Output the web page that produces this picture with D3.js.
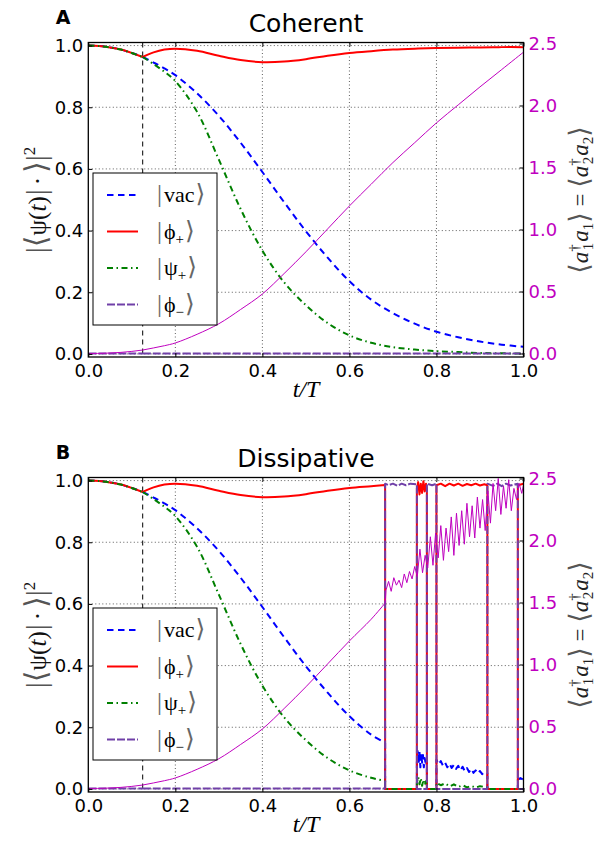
<!DOCTYPE html>
<html><head><meta charset="utf-8">
<script src="https://cdnjs.cloudflare.com/ajax/libs/d3/7.8.5/d3.min.js"></script>
<style>body{margin:0;background:#fff}</style>
</head><body><svg id="c" width="600" height="843"></svg>
<script>
// ---------------- data ----------------
const tPre = [0, 0.025, 0.05, 0.075, 0.1, 0.125];
const sharedPre = [1.0, 0.9985, 0.994, 0.987, 0.976, 0.963];
const phiMinusPre = [0.001, 0.001, 0.001, 0.001, 0.001, 0.001];
const magPre = [0, 0.001, 0.004, 0.009, 0.017, 0.028];

const tPost = [0.125, 0.15, 0.175, 0.2, 0.25, 0.3, 0.35, 0.4, 0.45, 0.5, 0.55, 0.6, 0.65, 0.7, 0.75, 0.8, 0.85, 0.9, 0.95, 1.0];
const phiPlusPost = [0.963, 0.978, 0.987, 0.990, 0.983, 0.967, 0.953, 0.946, 0.948, 0.956, 0.967, 0.976, 0.982, 0.987, 0.990, 0.992, 0.993, 0.994, 0.995, 0.995];
const vacPost = [0.963, 0.945, 0.926, 0.904, 0.845, 0.772, 0.685, 0.590, 0.492, 0.398, 0.312, 0.236, 0.176, 0.132, 0.098, 0.072, 0.054, 0.040, 0.030, 0.023];
const psiPlusPost = [0.963, 0.940, 0.915, 0.885, 0.785, 0.630, 0.470, 0.335, 0.232, 0.158, 0.100, 0.060, 0.036, 0.022, 0.014, 0.009, 0.006, 0.003, 0.002, 0.001];
const phiMinusPost = [0.001, 0.001, 0.001, 0.001, 0.001, 0.001, 0.001, 0.001, 0.001, 0.001, 0.001, 0.001, 0.001, 0.001, 0.001, 0.001, 0.001, 0.001, 0.001, 0.001];
const magPost = [0.028, 0.045, 0.063, 0.085, 0.155, 0.240, 0.355, 0.480, 0.645, 0.820, 1.005, 1.190, 1.365, 1.540, 1.700, 1.860, 2.005, 2.150, 2.290, 2.430];

// dissipative run: quantum-jump section (pairs of [t, value])
const jumpT = 0.682;
const jumpStartT = [0.682];
const phiPlusJumpStart = [0.986];
const vacJumpStart = [0.150];
const psiPlusJumpStart = [0.026];
const phiMinusJumpStart = [0.001];
const magJumpStart = [1.495];

const phiPlusJump = [[0.682,0],[0.755,0],[0.755,0.975],[0.758,0.995],[0.761,0.955],[0.764,0.99],[0.767,0.96],[0.770,0.998],[0.773,0.965],[0.776,0.99],[0.778,0.975],[0.778,0],[0.800,0],[0.800,0.985],[0.81,0.99],[0.82,0.982],[0.83,0.99],[0.84,0.984],[0.85,0.99],[0.86,0.983],[0.87,0.989],[0.88,0.985],[0.89,0.99],[0.90,0.984],[0.91,0.988],[0.917,0.985],[0.917,0],[0.987,0],[0.987,0.985],[1.0,0.99]];
const phiMinusJump = [[0.682,0.99],[0.69,0.985],[0.70,0.99],[0.71,0.983],[0.72,0.99],[0.73,0.985],[0.74,0.99],[0.755,0.988],[0.755,0],[0.778,0],[0.778,0.99],[0.79,0.985],[0.800,0.99],[0.800,0],[0.917,0],[0.917,0.99],[0.93,0.983],[0.94,0.99],[0.95,0.982],[0.96,0.99],[0.97,0.984],[0.987,0.99],[0.987,0],[1.0,0]];
const vacJump = [[0.682,0],[0.755,0],[0.755,0.09],[0.757,0.125],[0.759,0.08],[0.761,0.12],[0.763,0.07],[0.765,0.115],[0.767,0.085],[0.769,0.11],[0.771,0.07],[0.773,0.1],[0.776,0.075],[0.778,0.09],[0.778,0],[0.800,0],[0.800,0.095],[0.805,0.08],[0.81,0.09],[0.815,0.075],[0.82,0.085],[0.825,0.07],[0.83,0.082],[0.835,0.068],[0.84,0.078],[0.845,0.065],[0.85,0.075],[0.855,0.06],[0.86,0.072],[0.865,0.058],[0.87,0.068],[0.875,0.055],[0.88,0.065],[0.885,0.052],[0.89,0.06],[0.895,0.05],[0.90,0.058],[0.905,0.048],[0.91,0.055],[0.917,0.05],[0.917,0],[0.987,0],[0.987,0.03],[0.993,0.035],[1.0,0.03]];
const psiPlusJump = [[0.682,0],[0.755,0],[0.755,0.02],[0.758,0.04],[0.761,0.015],[0.764,0.035],[0.767,0.01],[0.770,0.03],[0.773,0.012],[0.776,0.025],[0.778,0.01],[0.778,0],[0.800,0],[0.800,0.02],[0.81,0.012],[0.82,0.018],[0.83,0.008],[0.84,0.015],[0.85,0.006],[0.86,0.012],[0.87,0.005],[0.88,0.01],[0.89,0.004],[0.90,0.009],[0.917,0.005],[0.917,0],[1.0,0]];
// photon number after the first jump, sampled every 0.006 starting at t = 0.684
const magJumpT0 = 0.684;
const magJumpStep = 0.006;
const magJump = [1.60,1.67,1.59,1.70,1.64,1.68,1.62,1.73,1.66,1.75,
  1.69,1.79,1.71,1.93,1.74,1.88,1.78,2.03,1.80,2.06,
  1.86,2.12,1.84,2.10,1.91,2.19,1.88,2.22,1.96,2.24,
  1.97,2.30,2.03,2.28,2.02,2.35,2.10,2.33,2.08,2.40,
  2.14,2.46,2.24,2.50,2.21,2.44,2.26,2.49,2.24,2.42,
  2.33,2.46,2.38,2.48];

const xTicks = [0, 0.2, 0.4, 0.6, 0.8, 1.0];
const yTicks = [0, 0.2, 0.4, 0.6, 0.8, 1.0];
const y2Ticks = [0, 0.5, 1.0, 1.5, 2.0, 2.5];
const kickT = 0.125;
const titles = ["Coherent", "Dissipative"];
const panelLabels = ["A", "B"];
const seriesNames = ["vac", "phiPlus", "psiPlus", "phiMinus"];

// ---------------- styles ----------------
const styles = {
  vac: {color: "#0000ff", dash: "6.5,4.5", w: 2},
  phiPlus: {color: "#ff0000", dash: null, w: 2},
  psiPlus: {color: "#008000", dash: "6,3.5,1.5,3.5", w: 2},
  phiMinus: {color: "#7040a8", dash: "8,2", w: 2}
};
const MAG = "#bf00bf";
const SERIF = "'Liberation Serif', 'DejaVu Serif', serif";

const svg = d3.select("#c");
const x = d3.scaleLinear().domain([0, 1]).range([88.3, 523.5]);

function zip(ts, vs) { return ts.map((t, i) => [t, vs[i]]); }

function centerRotated(textSel, tx, cy) {
  const bb = textSel.node().getBBox();
  const cx = bb.x + bb.width / 2;
  textSel.attr("transform", `translate(${tx},${cy + cx}) rotate(-90)`);
}

function drawPanel(k) {
  const off = k * 435;
  const top = 42.5 + off, bot = 357 + off;
  const y = d3.scaleLinear().domain([-0.01, 1.01]).range([bot, top]);
  const y2 = d3.scaleLinear().domain([-0.0282, 2.508]).range([bot, top]);
  const g = svg.append("g");
  const line = d3.line().x(d => x(d[0])).y(d => y(d[1]));
  const smooth = d3.line().x(d => x(d[0])).y(d => y(d[1])).curve(d3.curveCatmullRom.alpha(0.5));
  const smooth2 = d3.line().x(d => x(d[0])).y(d => y2(d[1])).curve(d3.curveCatmullRom.alpha(0.5));
  const line2 = d3.line().x(d => x(d[0])).y(d => y2(d[1]));

  const clipId = "clip" + k;
  svg.append("clipPath").attr("id", clipId).append("rect")
    .attr("x", x(0)).attr("y", top).attr("width", x(1) - x(0)).attr("height", bot - top);

  // grid
  const grid = g.append("g").attr("stroke", "#333").attr("stroke-width", 0.8).attr("stroke-dasharray", "1,2.5");
  xTicks.slice(1, -1).forEach(t => grid.append("line").attr("x1", x(t)).attr("x2", x(t)).attr("y1", top).attr("y2", bot));
  yTicks.forEach(v => grid.append("line").attr("x1", x(0)).attr("x2", x(1)).attr("y1", y(v)).attr("y2", y(v)));

  // vertical marker
  g.append("line").attr("x1", x(kickT)).attr("x2", x(kickT)).attr("y1", top).attr("y2", bot)
    .attr("stroke", "#000").attr("stroke-width", 1).attr("stroke-dasharray", "5,4");

  const plot = g.append("g").attr("clip-path", `url(#${clipId})`);
  const preVals = {vac: sharedPre, phiPlus: sharedPre, psiPlus: sharedPre, phiMinus: phiMinusPre};
  const postVals = {vac: vacPost, phiPlus: phiPlusPost, psiPlus: psiPlusPost, phiMinus: phiMinusPost};
  const jStart = {vac: vacJumpStart, phiPlus: phiPlusJumpStart, psiPlus: psiPlusJumpStart, phiMinus: phiMinusJumpStart};
  const jumps = {vac: vacJump, phiPlus: phiPlusJump, psiPlus: psiPlusJump, phiMinus: phiMinusJump};

  seriesNames.forEach(name => {
    const s = styles[name];
    let post = zip(tPost, postVals[name]);
    if (k === 1) post = post.filter(d => d[0] < jumpT).concat(zip(jumpStartT, jStart[name]));
    const pre = zip(tPre, preVals[name]);
    let dPath = smooth(pre) + smooth(post);
    if (k === 1) dPath += line([[jumpStartT[0], jStart[name][0]]].concat(jumps[name]));
    plot.append("path").attr("d", dPath).attr("fill", "none")
      .attr("stroke", s.color).attr("stroke-width", s.w)
      .attr("stroke-dasharray", s.dash).attr("stroke-linejoin", "round");
  });

  // legend
  const lg = g.append("g");
  const lx = 93, ly = 173 + off;
  lg.append("rect").attr("x", lx).attr("y", ly).attr("width", 124).attr("height", 152)
    .attr("fill", "#fff").attr("stroke", "#000").attr("stroke-width", 1);
  const labels = [["vac", null], ["ϕ", "+"], ["ψ", "+"], ["ϕ", "−"]];
  seriesNames.forEach((name, i) => {
    const s = styles[name];
    const yy = ly + 22 + i * 36.5;
    lg.append("line").attr("x1", lx + 14).attr("x2", lx + 45).attr("y1", yy).attr("y2", yy)
      .attr("stroke", s.color).attr("stroke-width", s.w).attr("stroke-dasharray", s.dash);
    const t = lg.append("text").attr("x", lx + 64).attr("y", yy + 7)
      .attr("font-family", SERIF).attr("font-size", 22).attr("fill", "#000");
    t.append("tspan").attr("fill", "#666").attr("font-size", 25).text("|");
    t.append("tspan").attr("dx", 2).text(labels[i][0]);
    if (labels[i][1]) {
      t.append("tspan").attr("dy", 5).attr("font-size", 15).text(labels[i][1]);
      t.append("tspan").attr("dy", -5).attr("dx", 1).attr("fill", "#666").attr("font-size", 25).text("⟩");
    } else {
      t.append("tspan").attr("dx", 1).attr("fill", "#666").attr("font-size", 25).text("⟩");
    }
  });

  // photon number (twin axis) on top
  let mag = zip(tPre, magPre).concat(zip(tPost, magPost).slice(1));
  if (k === 0) {
    plot.append("path").attr("d", smooth2(mag)).attr("fill", "none").attr("stroke", MAG).attr("stroke-width", 1);
  } else {
    const m1 = mag.filter(d => d[0] < jumpT).concat(zip(jumpStartT, magJumpStart));
    const m2 = [[jumpStartT[0], magJumpStart[0]]].concat(magJump.map((v, i) => [magJumpT0 + i * magJumpStep, v]));
    plot.append("path").attr("d", smooth2(m1) + line2(m2)).attr("fill", "none").attr("stroke", MAG).attr("stroke-width", 1);
  }

  // frame
  g.append("rect").attr("x", x(0)).attr("y", top).attr("width", x(1) - x(0)).attr("height", bot - top)
    .attr("fill", "none").attr("stroke", "#000").attr("stroke-width", 1.3);

  const font = "'DejaVu Sans', sans-serif";
  const ax = (sel) => sel.call(s => s.select(".domain").remove()).selectAll("text").attr("font-family", font).attr("font-size", 18);
  g.append("g").attr("transform", `translate(0,${bot})`)
    .call(d3.axisBottom(x).tickValues(xTicks).tickFormat(d3.format(".1f")).tickSize(-4).tickPadding(7))
    .call(ax);
  g.append("g").attr("transform", `translate(0,${top})`)
    .call(d3.axisTop(x).tickValues(xTicks).tickFormat("").tickSize(-4))
    .call(s => s.select(".domain").remove());
  g.append("g").attr("transform", `translate(${x(0)},0)`)
    .call(d3.axisLeft(y).tickValues(yTicks).tickFormat(d3.format(".1f")).tickSize(-4).tickPadding(5))
    .call(ax);
  const r = g.append("g").attr("transform", `translate(${x(1)},0)`)
    .call(d3.axisRight(y2).tickValues(y2Ticks).tickFormat(d3.format(".1f")).tickSize(-4).tickPadding(5))
    .call(ax);
  r.selectAll("text").attr("fill", MAG);
  g.selectAll(".tick line").attr("stroke", "#000").attr("stroke-width", 1);

  // titles / labels
  g.append("text").attr("x", 306).attr("y", 31.5 + off).attr("text-anchor", "middle")
    .attr("font-family", font).attr("font-size", 25).text(titles[k]);
  g.append("text").attr("x", 63).attr("y", 24 + off).attr("text-anchor", "middle")
    .attr("font-family", font).attr("font-weight", "bold").attr("font-size", 19).text(panelLabels[k]);
  g.append("text").attr("x", 306).attr("y", 397 + off).attr("text-anchor", "middle")
    .attr("font-family", SERIF).attr("font-style", "italic").attr("font-size", 24).text("t/T");

  const ylab = g.append("text").attr("font-family", SERIF).attr("font-size", 25).attr("fill", "#111");
  ylab.append("tspan").attr("fill", "#555").attr("font-size", 30).text("|⟨");
  ylab.append("tspan").text("ψ(");
  ylab.append("tspan").attr("font-style", "italic").text("t");
  ylab.append("tspan").text(")");
  ylab.append("tspan").attr("fill", "#555").attr("font-size", 30).attr("dx", 1).text("|");
  ylab.append("tspan").attr("dx", 4).text("·");
  ylab.append("tspan").attr("fill", "#555").attr("font-size", 30).attr("dx", 4).text("⟩|");
  ylab.append("tspan").attr("dy", -11).attr("font-size", 17).text("2");
  centerRotated(ylab, 46, 200 + off);

  const rl = g.append("text").attr("font-family", SERIF).attr("font-size", 23).attr("fill", "#222");
  const part = (n) => {
    rl.append("tspan").attr("fill", "#555").attr("font-size", 27).text("⟨");
    rl.append("tspan").attr("font-style", "italic").text("a");
    rl.append("tspan").attr("font-size", 15).attr("dy", -9).text("†");
    rl.append("tspan").attr("font-size", 15).attr("dx", -6).attr("dy", 14).text(n);
    rl.append("tspan").attr("font-style", "italic").attr("dx", 1).attr("dy", -5).text("a");
    rl.append("tspan").attr("font-size", 15).attr("dy", 5).text(n);
    rl.append("tspan").attr("fill", "#555").attr("font-size", 27).attr("dy", -5).text("⟩");
  };
  part("1");
  rl.append("tspan").text(" = ");
  part("2");
  centerRotated(rl, 588, 200 + off);
}

drawPanel(0);
drawPanel(1);
</script>
</body></html>
